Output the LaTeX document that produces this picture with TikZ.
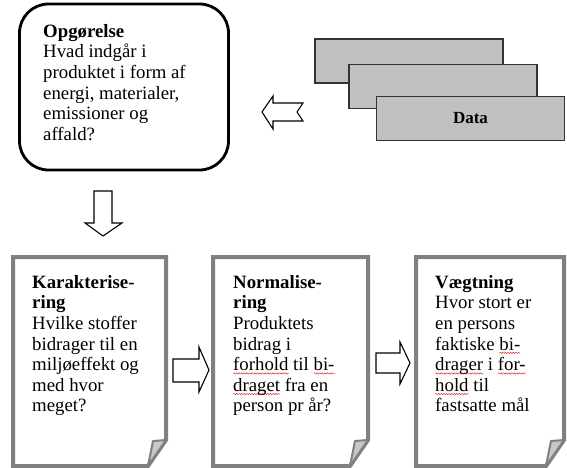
\documentclass[tikz,border=0pt]{standalone}
\usepackage{fontspec}
\setmainfont{Liberation Serif}
\usetikzlibrary{decorations.pathmorphing}
\definecolor{wavered}{RGB}{225,40,40}
\definecolor{pagegray}{RGB}{128,128,128}
\definecolor{foldgray}{RGB}{200,200,200}
\definecolor{datagray}{RGB}{192,192,192}
\newsavebox\wavebox
\newlength\wavewd
\newcommand\redwave[1]{\sbox\wavebox{#1}\setlength\wavewd{\wd\wavebox}%
  \rlap{\tikz[overlay,baseline=0pt]\draw[wavered, line width=0.45pt, decorate, decoration={snake, amplitude=0.7pt, segment length=2.6pt}] (0pt,-2.8pt) -- (\wavewd,-2.8pt);}%
  \usebox\wavebox}
\begin{document}
\begin{tikzpicture}[x=1pt,y=-1pt]
\useasboundingbox (0,0) rectangle (567,468);
\tikzset{
  txt/.style={anchor=north west, inner sep=0pt, align=left, font=\fontsize{18.8}{20.6}\selectfont},
  topbox/.style={draw=black, line width=2.8pt, rounded corners=29pt, fill=white, inner sep=0pt},
  pagebox/.style={draw=pagegray, line width=4pt, fill=white, line join=miter},
  foldtri/.style={draw=pagegray, line width=2pt, fill=foldgray, line join=round},
  blockarrow/.style={draw=black, line width=1.1pt, fill=white, line join=miter},
  datarect/.style={draw=black!80, line width=1.3pt, fill=datagray, minimum width=188pt, minimum height=44pt, inner sep=0pt, font=\fontsize{17}{19}\selectfont\bfseries},
}
% top box
\node[topbox, minimum width=209pt, minimum height=166pt] (opg) at (124,87) {};
\node[txt] (opgtxt) at (43,24) {\textbf{Opgørelse}\\Hvad indgår i\\produktet i form af\\energi, materialer,\\emissioner og\\affald?};

% data stack
\node[datarect] (d1) at (409,61) {};
\node[datarect] (d2) at (443,86.5) {};
\node[datarect] (d3) at (470.5,118.5) {Data};

% left block arrow (notched)
\draw[blockarrow] (262,112) -- (273,96) -- (273,103) -- (303,103) -- (297,112) -- (303,121) -- (273,121) -- (273,129) -- cycle;

% down block arrow
\draw[blockarrow] (94,191) -- (112,191) -- (112,223) -- (122,223) -- (103,236) -- (85,223) -- (94,223) -- cycle;

% page 1
\draw[pagebox] (13,257) -- (166,257) -- (166,440) -- (148,466) -- (13,466) -- cycle;
\draw[foldtri] (153,441) -- (166,440) -- (148,466) -- cycle;
\node[txt] (k) at (32,275) {\textbf{Karakterise-}\\\textbf{ring}\\Hvilke stoffer\\bidrager til en\\miljøeffekt og\\med hvor\\meget?};

% page 2
\draw[pagebox] (213,257) -- (368,257) -- (368,440) -- (350,466) -- (213,466) -- cycle;
\draw[foldtri] (355,441) -- (368,440) -- (350,466) -- cycle;
\node[txt] (n) at (233,275) {\textbf{Normalise-}\\\textbf{ring}\\Produktets\\bidrag i\\\redwave{forhold} til \redwave{bi-}\\\redwave{draget} fra en\\person pr år?};

% page 3
\draw[pagebox] (416,257) -- (564,257) -- (564,440) -- (546,466) -- (416,466) -- cycle;
\draw[foldtri] (551,441) -- (564,440) -- (546,466) -- cycle;
\node[txt] (v) at (435,275) {\textbf{Vægtning}\\Hvor stort er\\en persons\\faktiske \redwave{bi-}\\\redwave{drager} i \redwave{for-}\\\redwave{hold} til\\fastsatte mål};

% right block arrows
\draw[blockarrow] (173,359) -- (199,359) -- (199,347) -- (209,370) -- (199,392) -- (199,382) -- (173,382) -- cycle;
\draw[blockarrow] (376,353) -- (400,353) -- (400,342) -- (410,363) -- (400,384) -- (400,373) -- (376,373) -- cycle;
\end{tikzpicture}
\end{document}
